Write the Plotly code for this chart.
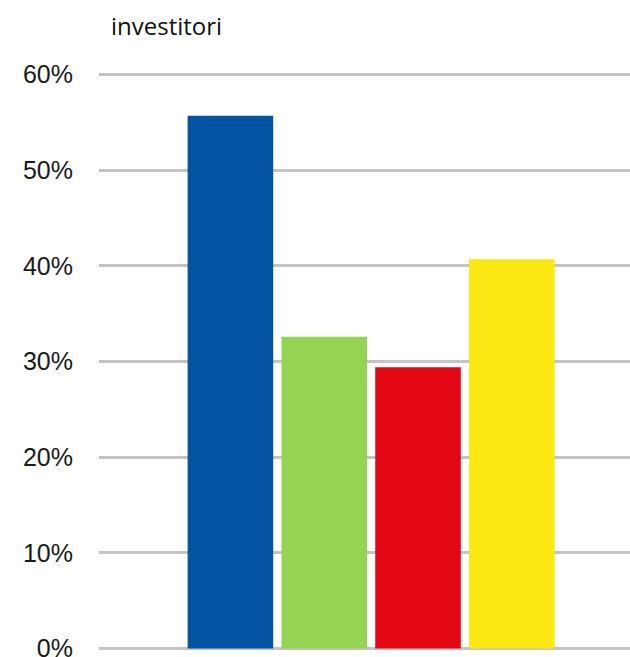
import plotly.graph_objects as go

# Share of respondents per group (percent)
groups = ["Gruppo 1", "Gruppo 2", "Gruppo 3", "Gruppo 4"]
shares = [55.7, 32.6, 29.4, 40.7]
bar_colors = ["#0254A3", "#95D353", "#E30613", "#FCE812"]

y_ticks = [0, 10, 20, 30, 40, 50, 60]
title_text = "investitori"

fig = go.Figure(
    go.Bar(
        x=groups,
        y=shares,
        marker=dict(color=bar_colors, line=dict(width=0)),
        width=0.912,
        hoverinfo="skip",
    )
)

fig.update_layout(
    width=630,
    height=657,
    margin=dict(l=99, r=0, t=70, b=5),
    paper_bgcolor="white",
    plot_bgcolor="white",
    showlegend=False,
    font=dict(family="Liberation Sans, Arial, sans-serif", color="#1a1a1a"),
    annotations=[
        dict(
            text=title_text,
            xref="paper",
            yref="paper",
            x=(108.5 - 99) / 531,
            y=1.0761,
            xanchor="left",
            yanchor="middle",
            showarrow=False,
            font=dict(family="Open Sans, sans-serif", size=24, color="#111111"),
        )
    ],
)

fig.update_xaxes(
    type="category",
    range=[-1.401, 4.260],
    showticklabels=False,
    showgrid=False,
    zeroline=False,
    showline=False,
    ticks="",
    automargin=False,
)

fig.update_yaxes(
    range=[-0.366, 60.49],
    tickvals=y_ticks,
    ticktext=[f"{v}%" for v in y_ticks],
    tickfont=dict(size=25, family="Liberation Sans, Arial, sans-serif", color="#1a1a1a"),
    ticklabelstandoff=25,
    ticklabeloverflow="allow",
    automargin=False,
    showgrid=True,
    gridcolor="#C4C4C4",
    gridwidth=2.5,
    zeroline=False,
    showline=False,
    ticks="",
)

fig.write_html("out.html")
